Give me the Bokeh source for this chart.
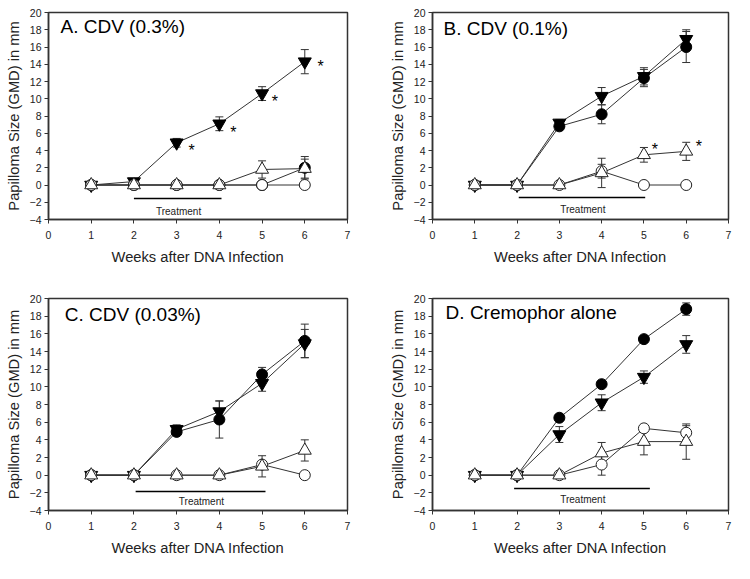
from bokeh.plotting import figure
from bokeh.models import Range1d, FixedTicker, Whisker, TeeHead, ColumnDataSource, Label
from bokeh.layouts import column, row
from bokeh.embed import file_html
from bokeh.resources import INLINE

# ---------------- data ----------------
weeks = [1, 2, 3, 4, 5, 6]
x_ticks = [0, 1, 2, 3, 4, 5, 6, 7]
y_ticks = [-4, -2, 0, 2, 4, 6, 8, 10, 12, 14, 16, 18, 20]

titles = ["A. CDV (0.3%)", "B. CDV (0.1%)", "C. CDV (0.03%)", "D. Cremophor alone"]

# filled inverted triangle
A_fdown = [0, 0.4, 4.9, 7.1, 10.6, 14.3]
A_fdown_err = [0, 0.3, 0.5, 0.8, 0.8, 1.4]
# filled circle
A_fcirc = [0, 0, 0, 0, 0, 2.0]
A_fcirc_err = [0, 0, 0, 0, 0, 1.3]
# open triangle
A_otri = [0, 0, 0, 0, 1.8, 1.9]
A_otri_err = [0, 0, 0, 0, 1.0, 1.1]
# open circle
A_ocirc = [0, 0, 0, 0, 0, 0]
A_ocirc_err = [0, 0, 0, 0, 0, 0]

B_fdown = [0, 0, 7.2, 10.3, 12.6, 16.9]
B_fdown_err = [0, 0, 0.4, 1.0, 1.0, 1.1]
B_fcirc = [0, 0, 6.8, 8.2, 12.4, 16.0]
B_fcirc_err = [0, 0, 0.3, 1.1, 1.0, 1.8]
B_otri = [0, 0, 0, 1.4, 3.5, 3.9]
B_otri_err = [0, 0, 0, 1.7, 0.85, 1.05]
B_ocirc = [0, 0, 0, 1.6, 0, 0]
B_ocirc_err = [0, 0, 0, 0.8, 0, 0]

C_fdown = [0, 0, 5.2, 7.2, 10.4, 14.9]
C_fdown_err = [0, 0, 0.5, 1.2, 0.9, 1.6]
C_fcirc = [0, 0, 4.9, 6.3, 11.4, 15.2]
C_fcirc_err = [0, 0, 0.3, 2.1, 0.8, 1.9]
C_otri = [0, 0, 0, 0, 1.0, 2.8]
C_otri_err = [0, 0, 0, 0, 1.2, 1.2]
C_ocirc = [0, 0, 0, 0, 1.2, 0]
C_ocirc_err = [0, 0, 0, 0, 0, 0]

D_fdown = [0, 0, 4.6, 8.2, 11.1, 14.8]
D_fdown_err = [0, 0, 0.9, 0.9, 0.7, 1.0]
D_fcirc = [0, 0, 6.5, 10.3, 15.4, 18.8]
D_fcirc_err = [0, 0, 0.3, 0.3, 0.3, 0.7]
D_otri = [0, 0, 0, 2.5, 3.8, 3.8]
D_otri_err = [0, 0, 0, 1.2, 1.5, 2.0]
D_ocirc = [0, 0, 0, 1.2, 5.3, 4.8]
D_ocirc_err = [0, 0, 0, 1.2, 0, 0.8]

# significance asterisks
A_star_x = [3.35, 4.33, 5.3, 6.37]
A_star_y = [4.5, 6.6, 10.1, 14.2]
B_star_x = [5.26, 6.3]
B_star_y = [4.6, 4.9]

# treatment bars (start week, end week)
treat_x0 = [2.0, 2.04, 2.04, 1.93]
treat_x1 = [4.05, 5.03, 5.08, 5.14]

# ---------------- styling ----------------
FONT = "Liberation Sans"
INK = "#222222"
LINE = "#333333"

panels = [
    dict(fdown=A_fdown, fdown_err=A_fdown_err, fcirc=A_fcirc, fcirc_err=A_fcirc_err,
         otri=A_otri, otri_err=A_otri_err, ocirc=A_ocirc, ocirc_err=A_ocirc_err,
         sx=A_star_x, sy=A_star_y),
    dict(fdown=B_fdown, fdown_err=B_fdown_err, fcirc=B_fcirc, fcirc_err=B_fcirc_err,
         otri=B_otri, otri_err=B_otri_err, ocirc=B_ocirc, ocirc_err=B_ocirc_err,
         sx=B_star_x, sy=B_star_y),
    dict(fdown=C_fdown, fdown_err=C_fdown_err, fcirc=C_fcirc, fcirc_err=C_fcirc_err,
         otri=C_otri, otri_err=C_otri_err, ocirc=C_ocirc, ocirc_err=C_ocirc_err,
         sx=[], sy=[]),
    dict(fdown=D_fdown, fdown_err=D_fdown_err, fcirc=D_fcirc, fcirc_err=D_fcirc_err,
         otri=D_otri, otri_err=D_otri_err, ocirc=D_ocirc, ocirc_err=D_ocirc_err,
         sx=[], sy=[]),
]

# layout geometry (px) per panel
geom = [
    dict(w=386, h=293, bl=48, br=39, bt=12, bb=74, title_x=0.28, title_y=19.55, ty=-1.57, tty=-3.07),
    dict(w=352, h=293, bl=44, br=10, bt=12, bb=74, title_x=0.26, title_y=19.42, ty=-1.45, tty=-2.84),
    dict(w=386, h=272, bl=48, br=39, bt=5, bb=55, title_x=0.38, title_y=19.37, ty=-1.84, tty=-2.98),
    dict(w=352, h=272, bl=44, br=10, bt=5, bb=55, title_x=0.31, title_y=19.6, ty=-1.52, tty=-2.76),
]


def add_err(p, ys, errs):
    xs = [w for w, e in zip(weeks, errs) if e > 0]
    up = [y + e for y, e in zip(ys, errs) if e > 0]
    lo = [y - e for y, e in zip(ys, errs) if e > 0]
    if not xs:
        return
    src = ColumnDataSource(dict(x=xs, upper=up, lower=lo))
    wk = Whisker(base="x", upper="upper", lower="lower", source=src, dimension="height",
                 line_color=LINE, line_width=1,
                 upper_head=TeeHead(size=8, line_color=LINE, line_width=1),
                 lower_head=TeeHead(size=8, line_color=LINE, line_width=1))
    p.add_layout(wk)


figs = []
for i, (d, g) in enumerate(zip(panels, geom)):
    p = figure(width=g["w"], height=g["h"], output_backend="svg", toolbar_location=None,
               x_range=Range1d(0, 7), y_range=Range1d(-4, 20),
               min_border_left=g["bl"], min_border_right=g["br"],
               min_border_top=g["bt"], min_border_bottom=g["bb"])
    p.grid.visible = False
    p.outline_line_color = LINE
    p.outline_line_width = 1.5
    p.background_fill_color = "white"
    p.border_fill_color = "white"

    p.xaxis.ticker = FixedTicker(ticks=x_ticks)
    p.yaxis.ticker = FixedTicker(ticks=y_ticks)
    p.xaxis.axis_label = "Weeks after DNA Infection"
    p.yaxis.axis_label = "Papilloma Size (GMD) in mm"
    for ax in (p.xaxis, p.yaxis):
        ax.axis_line_color = LINE
        ax.axis_line_width = 1.5
        ax.major_tick_line_color = LINE
        ax.major_tick_out = 4
        ax.major_tick_in = 0
        ax.minor_tick_line_color = None
        ax.major_label_text_font = FONT
        ax.major_label_text_font_size = "10.5px"
        ax.major_label_text_color = INK
        ax.axis_label_text_font = FONT
        ax.axis_label_text_font_size = "14.7px"
        ax.axis_label_text_font_style = "normal"
        ax.axis_label_text_color = INK
    p.xaxis.major_label_standoff = 7
    p.xaxis.axis_label_standoff = 7
    p.yaxis.major_label_standoff = 3
    p.yaxis.axis_label_standoff = 5

    # series lines
    for key in ("fcirc", "fdown", "ocirc", "otri"):
        p.line(weeks, d[key], line_color=LINE, line_width=1)

    # markers
    p.scatter(weeks, d["fcirc"], marker="circle", size=11, fill_color="black", line_color="black")
    p.scatter(weeks, d["fdown"], marker="inverted_triangle", size=13, fill_color="black", line_color="black")
    p.scatter(weeks, d["ocirc"], marker="circle", size=11, fill_color="white", line_color=INK, line_width=1)
    p.scatter(weeks, d["otri"], marker="triangle", size=13, fill_color="white", line_color=INK, line_width=1)

    # error bars
    for key in ("fcirc", "fdown", "ocirc", "otri"):
        add_err(p, d[key], d[key + "_err"])

    # asterisks
    if d["sx"]:
        p.text(d["sx"], d["sy"], text=["*"] * len(d["sx"]), text_font_size="16px",
               text_align="center", text_baseline="middle", y_offset=4, text_color="black")

    # treatment bar
    p.line([treat_x0[i], treat_x1[i]], [g["ty"], g["ty"]], line_color="black", line_width=1.5)
    p.add_layout(Label(x=(treat_x0[i] + treat_x1[i]) / 2 + 0.02, y=g["tty"], text="Treatment",
                       text_font=FONT, text_font_size="10px", text_align="center",
                       text_baseline="middle", text_color=INK))

    # panel title
    p.add_layout(Label(x=g["title_x"], y=g["title_y"], text=titles[i], text_font=FONT,
                       text_font_size="19px", text_align="left", text_baseline="top",
                       text_color="black"))
    figs.append(p)

layout = column(row(figs[0], figs[1]), row(figs[2], figs[3]))
open("out.html", "w").write(file_html(layout, INLINE))
